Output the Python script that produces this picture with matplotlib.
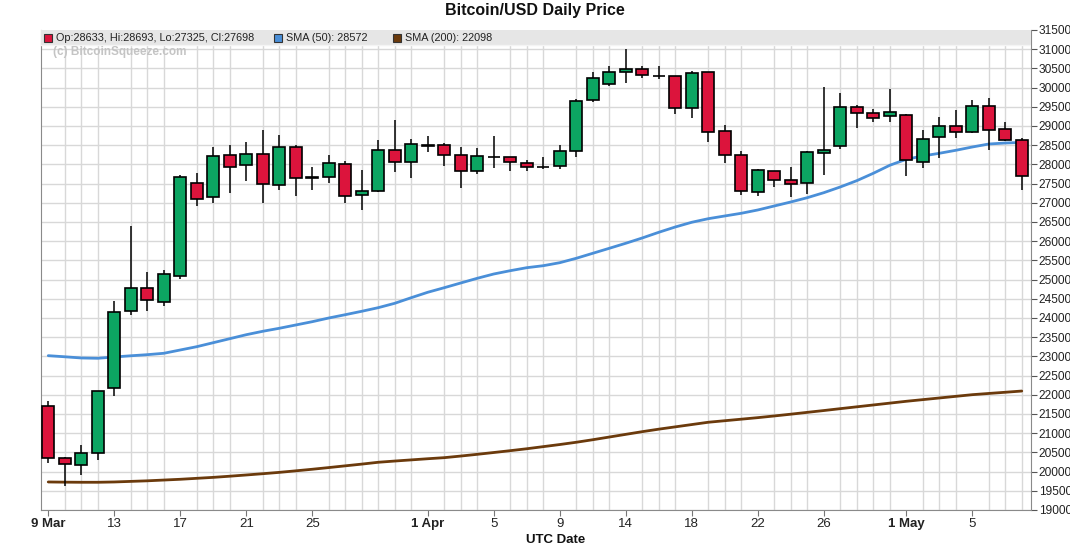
import matplotlib
matplotlib.use("Agg")
import matplotlib.pyplot as plt
from matplotlib.patches import Rectangle

plt.rcParams['font.family'] = ['Liberation Sans', 'DejaVu Sans']

# ---- data ----
opens = [21701, 20347, 20165, 20477, 22170, 24175, 24774, 24409, 25086, 27508,
         27143, 28237, 27977, 28263, 27456, 28445, 27640, 27664, 28003, 27196,
         27300, 28367, 28055, 28480, 28498, 28237, 27828, 28190, 28185, 28029,
         27925, 27951, 28341, 29669, 30086, 30414, 30477, 30305, 30294, 29461,
         30399, 28862, 28237, 27274, 27828, 27586, 27508, 28289, 28487, 29487,
         29331, 29253, 29279, 28055, 28706, 28992, 28836, 29513, 28914, 28633]
highs = [21839, 20370, 20693, 22100, 24443, 26396, 25198, 25242, 27716, 27784,
         28453, 28505, 28584, 28896, 28766, 28505, 27933, 28245, 28081, 27854,
         28636, 29156, 28662, 28740, 28557, 28445, 28419, 28740, 28190, 28107,
         28193, 28505, 29695, 30406, 30563, 31005, 30563, 30563, 30300, 30425,
         30410, 29018, 28341, 27880, 27840, 27933, 28349, 30024, 29859, 29547,
         29435, 29964, 29300, 28896, 29227, 29409, 29677, 29729, 29097, 28693]
lows = [20217, 19634, 19920, 20303, 21977, 24086, 24190, 24321, 25024, 26925,
        27003, 27263, 27576, 27003, 27341, 27177, 27341, 27524, 27003, 26821,
        27290, 27794, 27654, 28331, 27951, 27393, 27742, 27899, 27820, 27820,
        27870, 27873, 28201, 29617, 30050, 30112, 30242, 30216, 29320, 29216,
        28591, 28044, 27211, 27185, 27420, 27159, 27222, 27732, 28409, 28956,
        29112, 29112, 27706, 27914, 28175, 28696, 28820, 28383, 28620, 27325]
closes = [20347, 20191, 20477, 22092, 24149, 24774, 24461, 25138, 27664, 27091,
          28211, 27925, 28263, 27482, 28445, 27638, 27660, 28029, 27170, 27300,
          28367, 28055, 28524, 28495, 28237, 27828, 28211, 28200, 28055, 27925,
          27940, 28341, 29643, 30242, 30399, 30477, 30320, 30315, 29461, 30372,
          28836, 28237, 27300, 27847, 27586, 27498, 28315, 28375, 29487, 29331,
          29201, 29357, 28107, 28654, 28992, 28836, 29513, 28904, 28628, 27698]
sma50 = [23019, 22990, 22959, 22951, 22985, 23016, 23045, 23081, 23167, 23253,
         23357, 23461, 23565, 23654, 23732, 23818, 23904, 24000, 24086, 24175,
         24269, 24383, 24529, 24670, 24789, 24912, 25034, 25146, 25232, 25310,
         25362, 25440, 25555, 25685, 25815, 25946, 26084, 26232, 26370, 26493,
         26586, 26657, 26727, 26813, 26917, 27021, 27133, 27263, 27412, 27576,
         27768, 27977, 28133, 28219, 28289, 28367, 28453, 28531, 28557, 28572]
sma200 = [19730, 19725, 19722, 19722, 19730, 19745, 19760, 19780, 19800, 19825,
          19850, 19880, 19912, 19945, 19980, 20020, 20061, 20105, 20150, 20195,
          20243, 20275, 20305, 20335, 20363, 20405, 20450, 20497, 20545, 20595,
          20650, 20705, 20764, 20830, 20900, 20970, 21040, 21105, 21165, 21225,
          21285, 21325, 21365, 21405, 21449, 21495, 21543, 21590, 21639, 21687,
          21735, 21783, 21831, 21874, 21917, 21960, 22003, 22035, 22066, 22098]
tick_idx = [0, 4, 8, 12, 16, 23, 27, 31, 35, 39, 43, 47, 52, 56]
tick_labels = ["9 Mar", "13", "17", "21", "25", "1 Apr", "5", "9", "14", "18",
               "22", "26", "1 May", "5"]
month_labels = {"9 Mar", "1 Apr", "1 May"}

UP = "#0ca562"
DOWN = "#dc143c"
BLUE = "#4a8fd8"
BROWN = "#6b3a0c"

fig = plt.figure(figsize=(10.7, 5.46), dpi=100)
ax = fig.add_axes([41 / 1070, 36 / 546, 990 / 1070, 480 / 546])

n = len(opens)
xs = list(range(n))

# grid
ax.set_xlim(-0.44, n - 0.44)
ax.set_ylim(19000, 31500)
ax.set_xticks(xs, minor=True)
ax.set_yticks(range(19000, 31501, 500))
ax.grid(True, which='minor', axis='x', color='#d8d8d8', lw=1, zorder=0)
ax.grid(True, which='major', axis='y', color='#d8d8d8', lw=1, zorder=0)
ax.tick_params(axis='x', which='minor', length=0)

# SMA lines
ax.plot(xs, sma200, color=BROWN, lw=2, zorder=2, solid_capstyle='round')
ax.plot(xs, sma50, color=BLUE, lw=2, zorder=2, solid_capstyle='round')

# candles
ax.vlines(xs, lows, highs, color='black', lw=1.1, zorder=3)
bottoms = [min(o, c) for o, c in zip(opens, closes)]
heights = [abs(c - o) for o, c in zip(opens, closes)]
colors = [UP if c >= o else DOWN for o, c in zip(opens, closes)]
ax.bar(xs, heights, bottom=bottoms, width=0.75, color=colors,
       edgecolor='black', linewidth=1.2, zorder=4)

# axes styling
ax.spines['top'].set_visible(False)
for s in ['left', 'bottom', 'right']:
    ax.spines[s].set_color('#8a8a8a')
ax.yaxis.tick_right()
ax.tick_params(axis='y', which='major', length=4, color='#555555',
               labelsize=8.6, labelcolor='#222222', pad=1.5)
ax.set_xticks(tick_idx)
ax.set_xticklabels(tick_labels)
ax.tick_params(axis='x', which='major', length=4, color='#777777',
               labelsize=9.5, labelcolor='#222222', pad=2)
for lab in ax.get_xticklabels():
    if lab.get_text() in month_labels:
        lab.set_fontweight('bold')

# legend band
band_h = 15 / 480
ax.add_patch(Rectangle((0, 1 - band_h), 1, band_h, transform=ax.transAxes,
                       facecolor='#e6e6e6', edgecolor='none', zorder=6,
                       clip_on=False))
ax.plot([0, 1], [1 - band_h, 1 - band_h], transform=ax.transAxes,
        color='#f4f4f4', lw=1, zorder=6)

legend_items = [
    (DOWN, "Op:%d, Hi:%d, Lo:%d, Cl:%d" % (opens[-1], highs[-1], lows[-1], closes[-1]), 48),
    (BLUE, "SMA (50): %d" % sma50[-1], 278),
    (BROWN, "SMA (200): %d" % sma200[-1], 397),
]
for col, txt, px in legend_items:
    fig.patches.append(Rectangle(((px - 4) / 1070, (546 - 42) / 546), 8 / 1070, 8 / 546,
                                 transform=fig.transFigure, facecolor=col,
                                 edgecolor='#333333', lw=0.8, zorder=10))
    fig.text((px + 8) / 1070, (546 - 38) / 546, txt, fontsize=7.8,
             color='#222222', va='center', ha='left', zorder=11)

fig.text(53 / 1070, (546 - 52) / 546, "(c) BitcoinSqueeze.com", fontsize=8.5,
         fontweight='bold', color='#c4c4c4', va='center', ha='left')

fig.text(0.5, (546 - 11) / 546, "Bitcoin/USD Daily Price", fontsize=11.5,
         fontweight='bold', ha='center', va='center', color='#111111')
fig.text(556 / 1070, (546 - 540) / 546, "UTC Date", fontsize=9.5,
         fontweight='bold', ha='center', va='center', color='#111111')

fig.savefig("out.png", dpi=100, facecolor='white')
